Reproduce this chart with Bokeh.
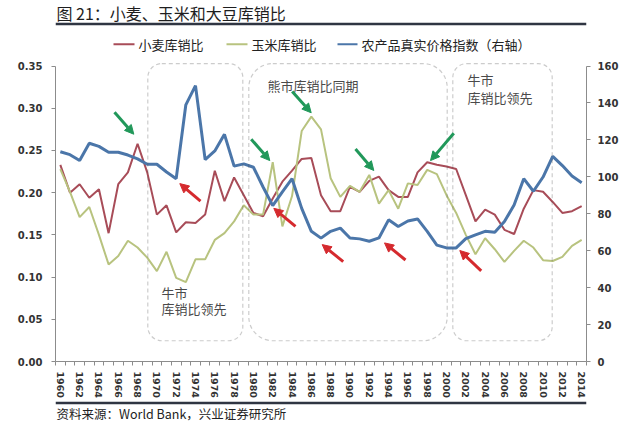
from bokeh.plotting import figure
from bokeh.layouts import column
from bokeh.models import (Range1d, LinearAxis, FixedTicker, BoxAnnotation, Label,
                          Arrow, NormalHead, NumeralTickFormatter)
from bokeh.embed import file_html
from bokeh.resources import INLINE

# ---------------- data ----------------
years = list(range(1960, 2015))
wheat = [0.233, 0.200, 0.210, 0.194, 0.204, 0.152, 0.210, 0.224, 0.258, 0.224,
         0.174, 0.185, 0.153, 0.165, 0.164, 0.174, 0.226, 0.190, 0.218, 0.197,
         0.176, 0.172, 0.193, 0.213, 0.226, 0.240, 0.241, 0.197, 0.178, 0.178,
         0.207, 0.201, 0.214, 0.219, 0.203, 0.195, 0.195, 0.224, 0.236, 0.233,
         0.231, 0.228, 0.197, 0.166, 0.180, 0.174, 0.156, 0.151, 0.181, 0.203,
         0.201, 0.189, 0.176, 0.178, 0.184]
corn = [0.228, 0.201, 0.171, 0.183, 0.150, 0.115, 0.125, 0.143, 0.135, 0.123,
        0.107, 0.130, 0.099, 0.094, 0.121, 0.121, 0.144, 0.152, 0.166, 0.185,
        0.174, 0.174, 0.236, 0.160, 0.196, 0.273, 0.290, 0.275, 0.217, 0.195,
        0.208, 0.201, 0.221, 0.187, 0.203, 0.181, 0.211, 0.209, 0.227, 0.222,
        0.197, 0.176, 0.150, 0.127, 0.146, 0.133, 0.118, 0.131, 0.143, 0.135,
        0.120, 0.119, 0.124, 0.137, 0.144]
price = [113.6, 112.0, 108.8, 118.2, 116.5, 113.3, 113.3, 111.8, 109.7, 106.8,
         106.8, 102.6, 99.0, 139.0, 149.4, 109.3, 114.0, 123.0, 105.8, 107.0,
         105.2, 94.5, 84.4, 91.9, 99.0, 82.9, 70.5, 66.8, 70.5, 72.2,
         66.9, 66.4, 65.1, 66.9, 76.7, 73.1, 76.1, 77.2, 70.5, 63.0,
         61.5, 61.5, 66.5, 68.6, 70.5, 70.0, 75.8, 84.7, 99.0, 92.2,
         99.9, 111.1, 106.1, 100.4, 96.8]
left_ticks = [0.0, 0.05, 0.10, 0.15, 0.20, 0.25, 0.30, 0.35]
right_ticks = [0, 20, 40, 60, 80, 100, 120, 140, 160]
x_label_years = list(range(1960, 2015, 2))

series_names = ["小麦库销比", "玉米库销比", "农产品真实价格指数（右轴）"]
series_colors = ["#a84c58", "#b8c37f", "#4b76a9"]
title_text = "图 21：小麦、玉米和大豆库销比"
source_text = "资料来源：World Bank，兴业证券研究所"

# ---------------- layout constants (reference pixels) ----------------
PAGE_W = 638
TITLE_H = 26
FOOT_TOP = 400
FOOT_H = 21
FIG_H = FOOT_TOP - TITLE_H
L, R, T, B = 55, 586, 66, 365      # plotting area for 0..0.35 / 0..160
LEFT_MAX, RIGHT_MAX = 0.35, 160.0
Y0 = TITLE_H                        # main figure top in page pixels

def fx(px):
    return 1959.5 + (px - L) / (R - L) * 55.0

def fy(py):
    return (B - py) / (B - T) * LEFT_MAX

CJK = "Noto Sans CJK SC"
NUM = "DejaVu Sans"
RULE = "#2f3542"


def strip_figure(h):
    """A strip figure; in the column its frame is aligned with the main frame,
    so its x range is given in page pixels of that frame."""
    f = figure(width=PAGE_W, height=h, output_backend="svg", toolbar_location=None,
               x_range=Range1d(L, R), y_range=Range1d(h, 0),
               x_axis_location=None, y_axis_location=None,
               min_border=0, margin=(0, 0, 0, 0))
    f.outline_line_color = None
    f.xgrid.grid_line_color = None
    f.ygrid.grid_line_color = None
    f.background_fill_color = "white"
    f.border_fill_color = "white"
    return f


# ---------------- title strip ----------------
ft = strip_figure(TITLE_H)
ft.add_layout(Label(x=L + 1, y=12.5, text=title_text, text_font=CJK, text_font_size="16px",
                    text_color="#1e1e1e", text_baseline="middle"))
ft.segment(x0=[L], y0=[23.5], x1=[R], y1=[23.5], line_color=RULE, line_width=2.5)

# ---------------- main figure ----------------
top_left = fy(Y0)
top_right = (B - Y0) / (B - T) * RIGHT_MAX

p = figure(width=PAGE_W, height=FIG_H, output_backend="svg", toolbar_location=None,
           x_range=Range1d(1959.5, 2014.5), y_range=Range1d(0, top_left),
           min_border_left=L, min_border_right=PAGE_W - R,
           min_border_top=0, min_border_bottom=FIG_H - (B - Y0),
           margin=(0, 0, 0, 0), frame_align=False)
p.outline_line_color = None
p.xgrid.grid_line_color = None
p.ygrid.grid_line_color = None
p.background_fill_color = "white"
p.border_fill_color = "white"
p.extra_y_ranges = {"right": Range1d(0, top_right)}

axis_col = "#8c8c8c"
lab_col = "#333333"

ya = p.yaxis[0]
ya.ticker = FixedTicker(ticks=left_ticks)
ya.bounds = (0, LEFT_MAX)
ya.formatter = NumeralTickFormatter(format="0.00")
ya.axis_line_color = axis_col
ya.major_tick_line_color = axis_col
ya.major_tick_out = 4
ya.major_tick_in = 0
ya.minor_tick_line_color = None
ya.major_label_standoff = 9
ya.major_label_text_font = NUM
ya.major_label_text_font_style = "bold"
ya.major_label_text_font_size = "10px"
ya.major_label_text_color = lab_col

ra = LinearAxis(y_range_name="right", ticker=FixedTicker(ticks=right_ticks))
ra.bounds = (0, RIGHT_MAX)
ra.axis_line_color = axis_col
ra.major_tick_line_color = axis_col
ra.major_tick_out = 4
ra.major_tick_in = 0
ra.minor_tick_line_color = None
ra.major_label_standoff = 7
ra.major_label_text_font = NUM
ra.major_label_text_font_style = "bold"
ra.major_label_text_font_size = "10px"
ra.major_label_text_color = lab_col
p.add_layout(ra, "right")

xa = p.xaxis[0]
xa.ticker = FixedTicker(ticks=x_label_years,
                        minor_ticks=[y - 0.5 for y in years] + [years[-1] + 0.5])
xa.major_label_overrides = {y: str(y) for y in x_label_years}
xa.axis_line_color = axis_col
xa.major_tick_line_color = None
xa.major_tick_out = 0
xa.major_tick_in = 0
xa.minor_tick_line_color = axis_col
xa.minor_tick_out = 4
xa.minor_tick_in = 0
xa.major_label_orientation = "vertical"
xa.major_label_standoff = 6
xa.major_label_text_font = NUM
xa.major_label_text_font_style = "bold"
xa.major_label_text_font_size = "9.5px"
xa.major_label_text_color = lab_col

# series
p.line(years, wheat, line_color=series_colors[0], line_width=2)
p.line(years, corn, line_color=series_colors[1], line_width=2)
p.line(years, price, line_color=series_colors[2], line_width=3, y_range_name="right")

# dashed rounded boxes
box_specs = [(147.3, 242.3, 14), (248.3, 446.7, 24), (452.3, 551.7, 14)]
for lft, rgt, rad in box_specs:
    p.add_layout(BoxAnnotation(left=fx(lft), right=fx(rgt), top=fy(63.5), bottom=fy(344),
                               fill_alpha=0, fill_color=None, line_color="#555555",
                               line_dash="4 3", line_width=1.2, border_radius=rad))

box_text = [("牛市", 161, 295), ("库销比领先", 161, 311), ("熊市库销比同期", 267, 86),
            ("牛市", 467, 80), ("库销比领先", 467, 98)]
for txt, px, py in box_text:
    p.add_layout(Label(x=fx(px), y=fy(py), text=txt, text_font=CJK, text_font_size="13px",
                       text_color="#4a4a4a", text_baseline="middle", text_align="left"))

# arrows
green = "#21985a"
red = "#d52a2e"
green_arrows = [(114, 112.7, 133.3, 135), (250.7, 140, 269.3, 161.7),
                (291.7, 91.7, 310.7, 113.3), (355, 150, 373.3, 171.7),
                (453.3, 134, 430, 161.7)]
red_arrows = [(200, 202.7, 179.3, 185), (295, 228.3, 273.3, 210),
              (342.7, 264, 321.7, 246.7), (405, 262.3, 384, 245),
              (480.7, 273.3, 459.3, 252.7)]
for col, arrs in ((green, green_arrows), (red, red_arrows)):
    for x0, y0, x1, y1 in arrs:
        p.add_layout(Arrow(end=NormalHead(size=9, fill_color=col, line_color=col),
                           x_start=fx(x0), y_start=fy(y0), x_end=fx(x1), y_end=fy(y1),
                           line_color=col, line_width=3))

# legend (above the 0.35 line, inside the frame)
legend_pos = [(113, 134, 138), (226, 247, 251), (337, 357, 361)]
for (a, b, t), name, col in zip(legend_pos, series_names, series_colors):
    p.add_layout(Arrow(end=None, x_start=fx(a), y_start=fy(44), x_end=fx(b), y_end=fy(44),
                       line_color=col, line_width=2))
    p.add_layout(Label(x=fx(t), y=fy(44), text=name, text_font=CJK, text_font_size="13px",
                       text_color="#222222", text_baseline="middle", text_align="left"))

# ---------------- footer strip ----------------
ff = strip_figure(FOOT_H)
ff.segment(x0=[L], y0=[2.5], x1=[R], y1=[2.5], line_color=RULE, line_width=2.5)
ff.add_layout(Label(x=L + 1, y=12.5, text=source_text, text_font=CJK, text_font_size="12.5px",
                    text_color="#222222", text_baseline="middle"))

layout = column(ft, p, ff, spacing=0)
open("out.html", "w").write(file_html(layout, INLINE))
